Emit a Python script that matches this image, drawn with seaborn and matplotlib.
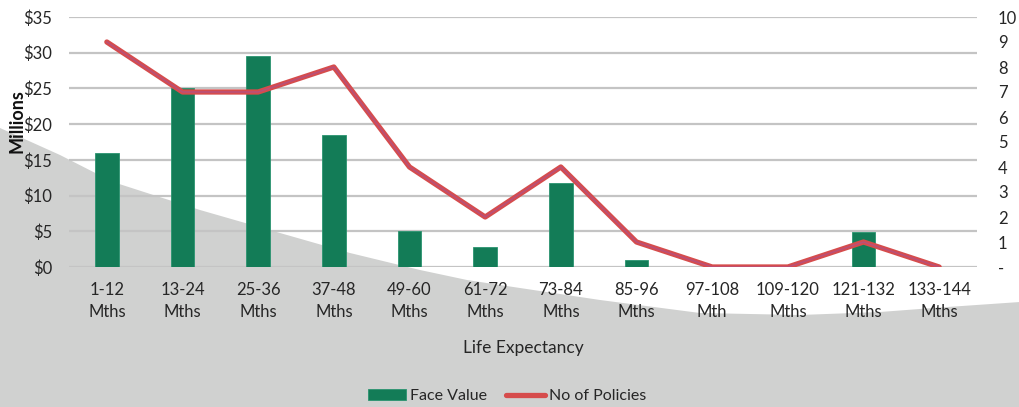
import numpy as np
import pandas as pd
import matplotlib
matplotlib.use('Agg')
import matplotlib.pyplot as plt
import seaborn as sns

# Data
categories = ['1-12\nMths', '13-24\nMths', '25-36\nMths', '37-48\nMths', '49-60\nMths',
              '61-72\nMths', '73-84\nMths', '85-96\nMths', '97-108\nMth', '109-120\nMths',
              '121-132\nMths', '133-144\nMths']
face_value = [16.0, 25.0, 29.5, 18.5, 5.0, 2.8, 11.8, 1.0, 0.0, 0.0, 4.9, 0.0]  # $ millions
policies = [9, 7, 7, 8, 4, 2, 4, 1, 0, 0, 1, 0]
left_ticks = [0, 5, 10, 15, 20, 25, 30, 35]
right_ticks = list(range(0, 11))

df = pd.DataFrame({'cat': categories, 'face': face_value,
                   'pol': policies, 'pos': np.arange(len(categories))})

sns.set_style('white')
plt.rcParams['font.family'] = ['Lato', 'DejaVu Sans']
plt.rcParams['font.size'] = 12
txt = '#262626'

fig = plt.figure(figsize=(10.2, 4.07), dpi=100, facecolor='white')

# decorative grey swoosh in the background
bg = fig.add_axes([0, 0, 1, 1], zorder=-5)
bg.set_xlim(0, 1020)
bg.set_ylim(407, 0)
bg.axis('off')
cx = [0, 60, 113, 200, 280, 350, 420, 467, 500, 600, 700, 800, 880, 933, 1020]
cy = [128, 155, 182, 210, 233, 253, 270, 280, 285, 300, 313, 315, 312, 308, 302]
bg.fill_between(cx, cy, 407, color='#d0d1d0', lw=0)

ax = fig.add_axes([69 / 1020, 1 - 267 / 407, (977 - 69) / 1020, 250 / 407])
ax.set_facecolor('none')

# Face Value bars
sns.barplot(data=df, x='cat', y='face', color='#137c57', width=0.31,
            saturation=1, edgecolor='#2a9470', linewidth=0.6, ax=ax, label='Face Value')
ax.set_ylim(0, 35)
ax.set_xlim(-0.5, len(categories) - 0.5)
ax.set_yticks(left_ticks)
ax.set_yticklabels([f'${v}' for v in left_ticks])
ax.yaxis.grid(True, color='#c4c4c4', lw=1.6)
ax.set_axisbelow(True)
ax.tick_params(axis='y', length=0, pad=12, labelsize=12, colors=txt)
ax.tick_params(axis='x', length=0, pad=11, labelsize=12, colors=txt)
for lbl in ax.get_xticklabels():
    lbl.set_linespacing(1.45)
ax.set_xlabel('Life Expectancy', fontsize=12.5, color=txt, labelpad=14)
ax.set_ylabel('')
for s in ax.spines.values():
    s.set_visible(False)

# No of Policies line on secondary axis
ax2 = ax.twinx()
sns.lineplot(data=df, x='pos', y='pol', color='#d64c4c', lw=3.8, ax=ax2,
             label='No of Policies', legend=False)
sns.lineplot(data=df, x='pos', y='pol', color='#b8507a', lw=1.1, ax=ax2, legend=False)
ax2.set_ylim(0, 10)
ax2.set_yticks(right_ticks)
ax2.set_yticklabels(['-'] + [str(v) for v in right_ticks[1:]])
for lbl in ax2.get_yticklabels():
    lbl.set_horizontalalignment('left')
ax2.tick_params(axis='y', length=0, pad=15, labelsize=12, colors=txt)
ax2.set_ylabel('')
ax2.set_xlabel('')
for s in ax2.spines.values():
    s.set_visible(False)
ax.set_xlim(-0.5, len(categories) - 0.5)

fig.text(17 / 1020, 1 - 121 / 407, 'Millions', rotation=90, ha='center', va='center',
         fontsize=13, color='#111111', fontweight='bold')

h1, l1 = ax.get_legend_handles_labels()
h2, l2 = ax2.get_legend_handles_labels()
if ax.get_legend():
    ax.get_legend().remove()
fig.legend(h1 + h2[:1], ['Face Value', 'No of Policies'], loc='center',
           bbox_to_anchor=(0.497, 1 - 396 / 407), ncol=2, frameon=False,
           fontsize=11.5, handlelength=2.4, handletextpad=0.25, columnspacing=1.2,
           labelcolor=txt)

fig.savefig('out.png', dpi=100)
